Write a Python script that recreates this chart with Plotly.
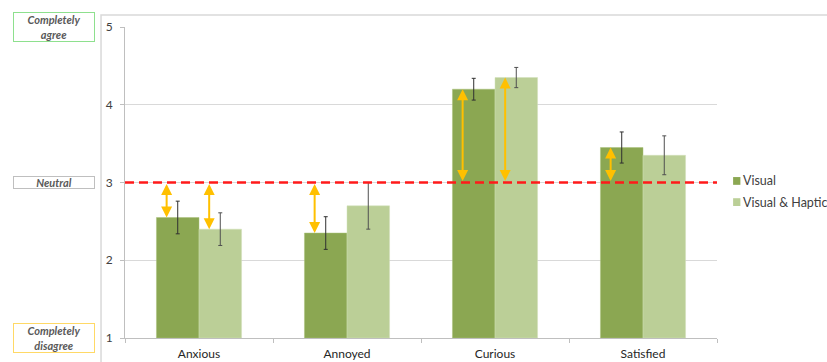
import plotly.graph_objects as go

categories = ["Anxious", "Annoyed", "Curious", "Satisfied"]
series_names = ["Visual", "Visual & Haptic"]
visual = [2.55, 2.35, 4.20, 3.45]
visual_err = [0.21, 0.21, 0.14, 0.20]
haptic = [2.40, 2.70, 4.35, 3.35]
haptic_err = [0.21, 0.30, 0.13, 0.25]
visual_arrow = [True, True, True, True]
haptic_arrow = [True, False, True, False]
neutral = 3
y_ticks = [1, 2, 3, 4, 5]
scale_labels = {5: "Completely<br>agree", 3: "Neutral", 1: "Completely<br>disagree"}
scale_borders = {5: "#8EE08E", 3: "#BFBFBF", 1: "#FFD966"}
colors = ["#8BA752", "#BBCF97"]

FONT = "Lato, 'Open Sans', sans-serif"
xs = list(range(len(categories)))
bargap = 0.425
bar_w = (1 - bargap) / 2
arrow_shift = -0.075

fig = go.Figure()
fig.add_trace(go.Bar(
    x=xs, y=[v - 1 for v in visual], base=1, name=series_names[0],
    marker=dict(color=colors[0], line=dict(color="#A9C07A", width=0.5)),
    error_y=dict(type="data", array=visual_err, color="#303030", thickness=1, width=2),
))
fig.add_trace(go.Bar(
    x=xs, y=[v - 1 for v in haptic], base=1, name=series_names[1],
    marker=dict(color=colors[1], line=dict(color="#D3E0BB", width=0.5)),
    error_y=dict(type="data", array=haptic_err, color="#505050", thickness=1, width=2),
))

# neutral dashed line
fig.add_shape(type="line", xref="x", yref="y", x0=-0.5, x1=len(categories) - 0.5 + 0.02,
              y0=neutral, y1=neutral, line=dict(color="#FF1A1A", width=2.5, dash="9px,5px"),
              layer="above")

annotations = []
for i in xs:
    for vals, flags, sign in ((visual, visual_arrow, -1), (haptic, haptic_arrow, 1)):
        if flags[i]:
            xp = i + sign * bar_w / 2 + arrow_shift
            annotations.append(dict(
                x=xp, y=vals[i], ax=xp, ay=neutral, xref="x", yref="y", axref="x", ayref="y",
                text="", showarrow=True, arrowside="end+start", arrowhead=2, startarrowhead=2,
                arrowsize=1.1, startarrowsize=1.1, arrowwidth=2, arrowcolor="#FFC000",
                standoff=0, startstandoff=0,
            ))

for yv, txt in scale_labels.items():
    annotations.append(dict(
        x=-0.1199, y=yv, xref="paper", yref="y", text="<b><i>" + txt + "</i></b>",
        showarrow=False, xanchor="center", yanchor="middle",
        width=80, height=(28 if "<br>" in txt else 11),
        bordercolor=scale_borders[yv], borderwidth=1, borderpad=0, bgcolor="white",
        font=dict(family=FONT, size=11, color="#595959"), align="center",
    ))

# manual legend (Excel-like compact layout)
legend_rows_y = [0.505, 0.437]
for name, col, ly in zip(series_names, colors, legend_rows_y):
    fig.add_shape(type="rect", xref="paper", yref="paper",
                  x0=1.0272, x1=1.0395, y0=ly - 0.0125, y1=ly + 0.0125,
                  fillcolor=col, line=dict(width=0))
    annotations.append(dict(x=1.0405, y=ly, xref="paper", yref="paper", text=name,
                            showarrow=False, xanchor="left", yanchor="middle",
                            font=dict(family=FONT, size=12.5, color="#404040")))

# outer chart frame
fig.add_shape(type="rect", xref="paper", yref="paper", x0=-0.0405, x1=1.5, y0=-0.3, y1=1.0386,
              line=dict(color="#D9D9D9", width=1.5), layer="below")

fig.update_layout(
    width=827, height=362,
    margin=dict(l=125, r=110, t=27, b=24, autoexpand=False),
    paper_bgcolor="white", plot_bgcolor="white",
    barmode="group", bargap=bargap, bargroupgap=0,
    font=dict(family=FONT, size=12, color="#404040"),
    showlegend=False,
    annotations=annotations,
    xaxis=dict(range=[-0.5, len(categories) - 0.5], tickvals=xs, ticktext=categories,
               ticks="", showgrid=False, zeroline=False, ticklabelstandoff=5,
               showline=True, linecolor="#BFBFBF", linewidth=1,
               minor=dict(tickvals=[i - 0.5 for i in range(len(categories) + 1)],
                          ticks="outside", ticklen=4, tickcolor="#BFBFBF", showgrid=False),
               tickfont=dict(family=FONT, size=12, color="#262626")),
    yaxis=dict(range=[1, 5], tickvals=y_ticks, ticks="outside", ticklen=4, tickcolor="#BFBFBF",
               showgrid=True, gridcolor="#D9D9D9", gridwidth=1, zeroline=False,
               ticklabelstandoff=5,
               showline=True, linecolor="#BFBFBF", linewidth=1,
               tickfont=dict(family=FONT, size=12, color="#404040")),
)

fig.write_html("out.html", config={"displayModeBar": False},
               post_script="document.body.style.margin='0px';document.body.style.overflow='hidden';")
